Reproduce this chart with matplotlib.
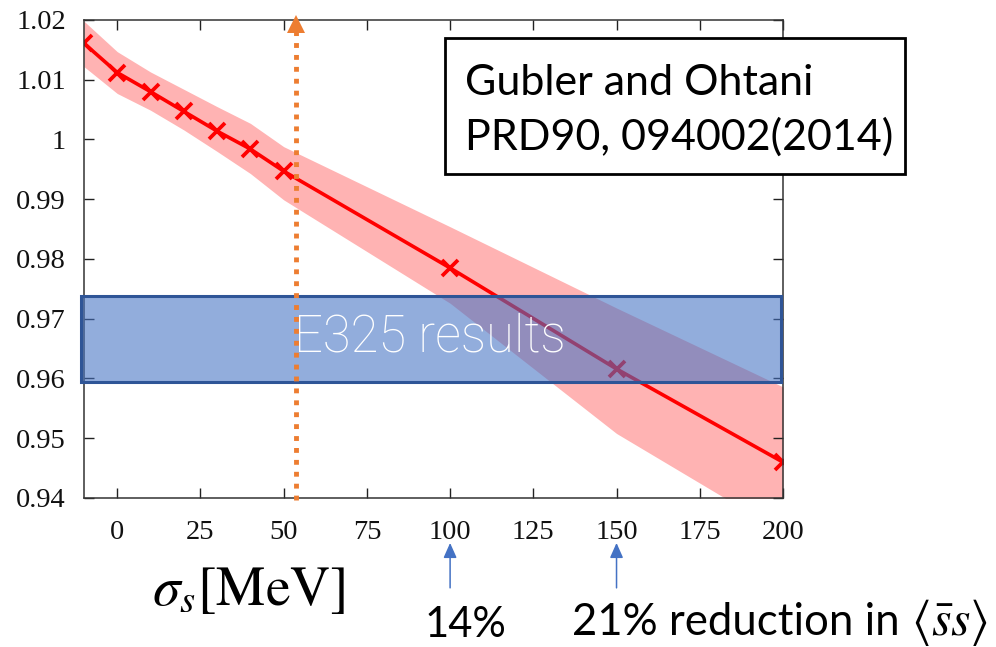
import matplotlib
matplotlib.use("Agg")
import matplotlib.pyplot as plt
from matplotlib.patches import Rectangle

plt.rcParams['mathtext.fontset'] = 'stix'

# sigma_s [MeV] and the ratio curve with its error band
sigma_s = [-10, 0, 10, 20, 30, 40, 50, 100, 150, 200]
ratio = [1.0161, 1.0112, 1.0080, 1.0047, 1.0014, 0.9984, 0.9947, 0.9785, 0.9616, 0.9460]
band_hi = [1.0198, 1.0147, 1.0113, 1.0084, 1.0055, 1.0027, 0.9988, 0.9854, 0.9718, 0.9586]
band_lo = [1.0122, 1.0077, 1.0049, 1.0016, 0.9980, 0.9943, 0.9899, 0.9726, 0.9508, 0.9342]

# E325 measured range
e325_lo, e325_hi = 0.9594, 0.9738
e325_x = [-10.8, 199.4]

sigma_mark = 53.7            # vertical marker
arrow_x = [100, 150]         # reduction arrows

xticks = [0, 25, 50, 75, 100, 125, 150, 175, 200]
yticks = [0.94, 0.95, 0.96, 0.97, 0.98, 0.99, 1.00, 1.01, 1.02]
ytick_labels = ['0.94', '0.95', '0.96', '0.97', '0.98', '0.99', '1', '1.01', '1.02']

fig = plt.figure(figsize=(9.96, 6.47), dpi=100)
ax = fig.add_axes([0.0843, 0.2303, 0.7018, 0.7388])

ax.fill_between(sigma_s, band_lo, band_hi, color='#FFB3B3', lw=0, zorder=1)
ax.plot(sigma_s, ratio, color='#FF0000', lw=2.6, marker='x', ms=11, mew=2.7, zorder=2)

ax.add_patch(Rectangle((e325_x[0], e325_lo), e325_x[1] - e325_x[0], e325_hi - e325_lo,
                       facecolor='#4472C4', alpha=0.58, edgecolor='none', zorder=3, clip_on=False))
ax.add_patch(Rectangle((e325_x[0], e325_lo), e325_x[1] - e325_x[0], e325_hi - e325_lo,
                       facecolor='none', edgecolor='#2F5597', lw=2.2, zorder=3, clip_on=False))
ax.text(94, (e325_lo + e325_hi) / 2 + 0.0003, 'E325 results', color='white', fontsize=36.5,
        family='Roboto', weight='light', ha='center', va='center', zorder=4)

# dotted orange marker with arrow head on top
ax.plot([sigma_mark, sigma_mark], [0.9397, 1.0180], color='#ED7D31', lw=3.5,
        linestyle=(0, (1.0, 1.45)), dash_capstyle='butt', zorder=5, clip_on=False)
ax.plot([sigma_mark], [1.01925], marker='^', ms=12.5, color='#ED7D31', mew=0,
        zorder=5, clip_on=False)

ax.set_xlim(-10, 200)
ax.set_ylim(0.94, 1.02)
ax.set_xticks(xticks)
ax.set_xticklabels([str(t) for t in xticks])
ax.set_yticks(yticks)
ax.set_yticklabels(ytick_labels)
ax.tick_params(direction='in', length=7, width=1, top=True, right=True, colors='#222222',
               labelcolor='#111111', labelsize=20.5)
ax.tick_params(axis='x', pad=16)
ax.tick_params(axis='y', pad=13)
for lab in ax.get_xticklabels() + ax.get_yticklabels():
    lab.set_family('Liberation Serif')
for sp in ax.spines.values():
    sp.set_color('#333333')
    sp.set_linewidth(1.1)

# blue arrows under the axis
xtr = ax.get_xaxis_transform()
for xa in arrow_x:
    ax.annotate('', xy=(xa, -0.094), xytext=(xa, -0.188), xycoords=xtr, textcoords=xtr,
                arrowprops=dict(arrowstyle='-|>,head_length=0.9,head_width=0.4',
                                color='#4472C4', lw=1.1, shrinkA=0, shrinkB=0),
                annotation_clip=False)

# reference box
fig.add_artist(Rectangle((0.4468, 0.7311), 0.4618, 0.2102, transform=fig.transFigure,
                         facecolor='white', edgecolor='black', lw=2, zorder=10))
fig.text(0.4669, 0.8532, 'Gubler and Ohtani', fontsize=31, family='Lato',
         va='baseline', ha='left', zorder=11)
fig.text(0.4669, 0.7682, 'PRD90, 094002(2014)', fontsize=31, family='Lato',
         va='baseline', ha='left', zorder=11)

fig.text(249 / 996, 1 - 590 / 647, r'$\sigma_s[\mathrm{MeV}]$', fontsize=40,
         ha='center', va='center')
fig.text(465 / 996, 1 - 637 / 647, '14%', fontsize=30, family='Lato',
         ha='center', va='baseline')
fig.text(572 / 996, 1 - 635 / 647, '21% reduction in', fontsize=31.5,
         family='Lato', ha='left', va='baseline')
fig.text(911 / 996, 1 - 635 / 647, r'$\langle\bar{s}s\rangle$', fontsize=36,
         ha='left', va='baseline')

fig.savefig('out.png', dpi=100)
